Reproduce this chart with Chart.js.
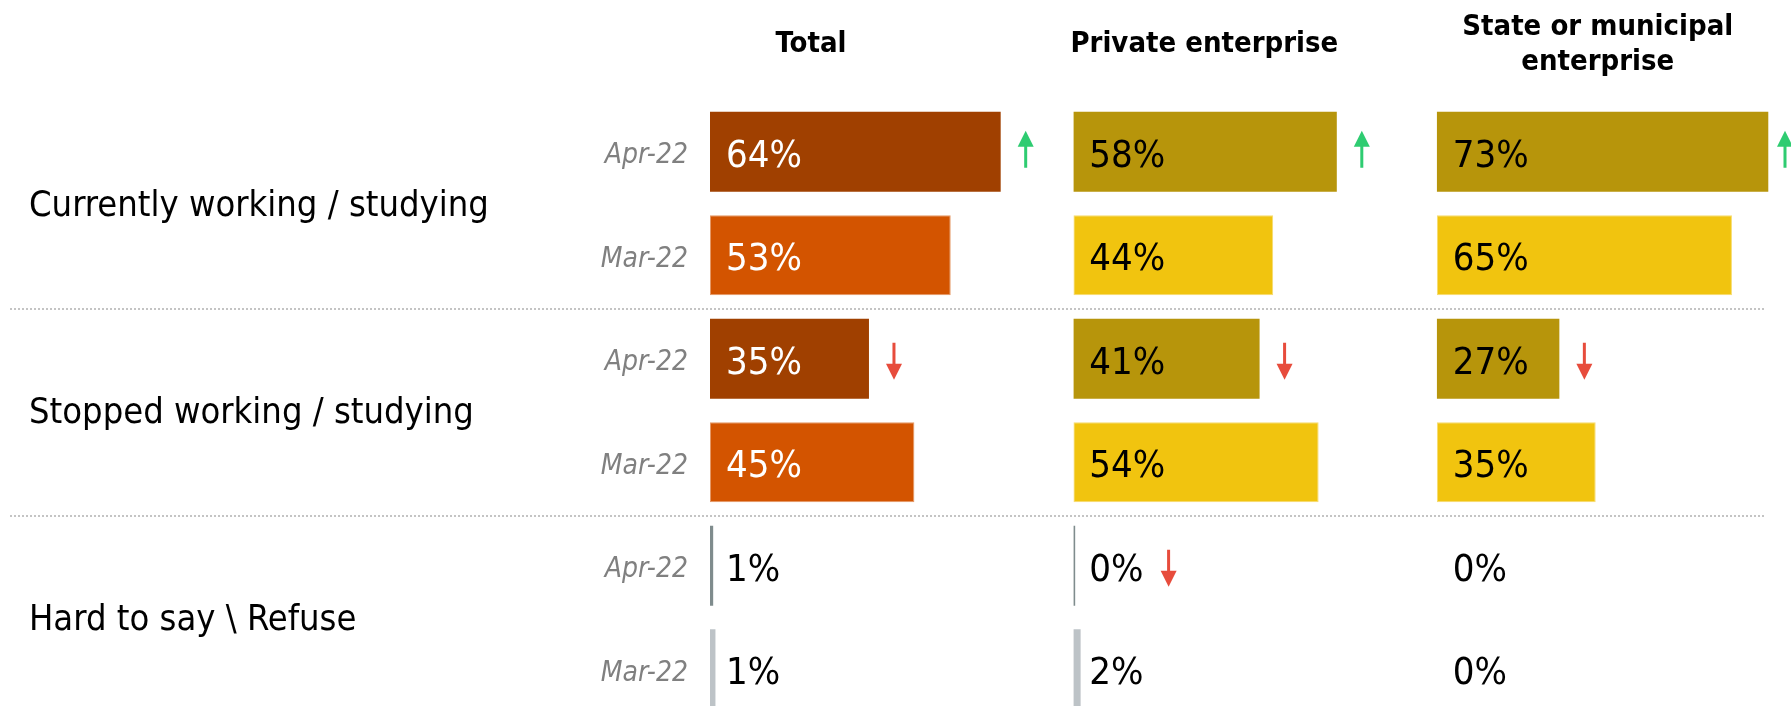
<!DOCTYPE html>
<html>
<head>
<meta charset="utf-8">
<script src="https://cdn.jsdelivr.net/npm/chart.js@4.4.1/dist/chart.umd.min.js"></script>
<style>
  html, body { margin: 0; padding: 0; background: #fff; overflow: hidden; }
  #wrap { position: relative; width: 1791px; height: 706px; overflow: hidden; }
  #chart { position: absolute; left: 0; top: 0; }
</style>
</head>
<body>
<div id="wrap"><canvas id="chart" width="1791" height="721"></canvas></div>
<script>
const rowLabels = ['Apr-22', 'Mar-22', 'Apr-22', 'Mar-22', 'Apr-22', 'Mar-22'];
const groupLabels = ['Currently working / studying', 'Stopped working / studying', 'Hard to say \\ Refuse'];
const panelTitles = [['Total'], ['Private enterprise'], ['State or municipal', 'enterprise']];

const totalValues   = [64, 53, 35, 45, 0.7, 1.2];
const privateValues = [58, 44, 41, 54, 0.4, 1.6];
const stateValues   = [73, 65, 27, 35, 0, 0];

// change vs previous wave, marked on the Apr rows
const totalTrend   = ['up', null, 'down', null, null, null];
const privateTrend = ['up', null, 'down', null, 'down', null];
const stateTrend   = ['up', null, 'down', null, null, null];

const totalColors   = ['#a04000', '#d35400', '#a04000', '#d35400', '#7f8c8d', '#bdc3c7'];
const totalEdges    = ['#a04000', '#e59866', '#a04000', '#e59866', '#7f8c8d', '#bdc3c7'];
const yellowColors  = ['#b7950b', '#f1c40f', '#b7950b', '#f1c40f', '#7f8c8d', '#bdc3c7'];
const yellowEdges   = ['#b7950b', '#f7dc6f', '#b7950b', '#f7dc6f', '#7f8c8d', '#bdc3c7'];
const edgeWidths    = [0, 1, 0, 1, 0, 0];
const totalText  = ['#fff', '#fff', '#fff', '#fff', '#000', '#000'];
const yellowText = ['#000', '#000', '#000', '#000', '#000', '#000'];

const FONT = "'DejaVu Sans Condensed', 'DejaVu Sans', sans-serif";
// header centre, measured from each panel's zero line
const headerShift = [101, 131, 161];

function drawArrow(ctx, x, y, dir) {
  ctx.save();
  ctx.fillStyle = dir === 'up' ? '#2ecc71' : '#e74c3c';
  if (dir === 'up') {
    ctx.beginPath();
    ctx.moveTo(x, y - 21);
    ctx.lineTo(x + 8, y - 5);
    ctx.lineTo(x - 8, y - 5);
    ctx.closePath();
    ctx.fill();
    ctx.fillRect(x - 1.5, y - 6, 3, 22);
  } else {
    ctx.beginPath();
    ctx.moveTo(x, y + 21);
    ctx.lineTo(x + 8, y + 5);
    ctx.lineTo(x - 8, y + 5);
    ctx.closePath();
    ctx.fill();
    ctx.fillRect(x - 1.5, y - 16, 3, 22);
  }
  ctx.restore();
}

const valueLabels = {
  id: 'valueLabels',
  afterDatasetsDraw(chart) {
    const ctx = chart.ctx;
    ctx.save();
    ctx.font = '38px ' + FONT;
    ctx.textAlign = 'left';
    ctx.textBaseline = 'alphabetic';
    chart.data.datasets.forEach((ds, di) => {
      const meta = chart.getDatasetMeta(di);
      const xs = chart.scales[ds.xAxisID];
      meta.data.forEach((bar, i) => {
        const txt = Math.round(ds.data[i]) + '%';
        const x0 = xs.getPixelForValue(0) + 16;
        ctx.fillStyle = ds.labelColors[i];
        ctx.fillText(txt, x0, bar.y + 15);
        const trend = ds.trend[i];
        if (trend) {
          const labelEnd = x0 + ctx.measureText(txt).width;
          let ax = Math.max(bar.x, labelEnd) + 25;
          ax = Math.min(ax, chart.width - 6);
          drawArrow(ctx, ax, bar.y, trend);
        }
      });
    });
    ctx.restore();
  }
};

const groupDecor = {
  id: 'groupDecor',
  afterDraw(chart) {
    const ctx = chart.ctx;
    const y = chart.scales.y;
    ctx.save();

    ctx.font = '36px ' + FONT;
    ctx.fillStyle = '#000';
    ctx.textAlign = 'left';
    groupLabels.forEach((g, gi) => {
      const yc = (y.getPixelForValue(gi * 2) + y.getPixelForValue(gi * 2 + 1)) / 2;
      ctx.fillText(g, 29, yc + 12);
    });

    ctx.strokeStyle = '#c4c4c4';
    ctx.lineWidth = 2;
    ctx.setLineDash([2, 2]);
    for (let gi = 1; gi < groupLabels.length; gi++) {
      const ys = Math.round((y.getPixelForValue(gi * 2 - 1) + y.getPixelForValue(gi * 2)) / 2) + 2;
      ctx.beginPath();
      ctx.moveTo(10, ys);
      ctx.lineTo(1765, ys);
      ctx.stroke();
    }
    ctx.setLineDash([]);

    ctx.font = 'bold 29px ' + FONT;
    ctx.textAlign = 'center';
    ['x1', 'x2', 'x3'].forEach((id, pi) => {
      const cx = chart.scales[id].getPixelForValue(0) + headerShift[pi];
      const lines = panelTitles[pi];
      lines.forEach((ln, li) => {
        ctx.fillText(ln, cx, 52 + (li - (lines.length - 1) / 2) * 35);
      });
    });
    ctx.restore();
  }
};

const barOpts = { grouped: false, barPercentage: 0.775, categoryPercentage: 1, borderWidth: edgeWidths, borderSkipped: false };

new Chart(document.getElementById('chart'), {
  type: 'bar',
  data: {
    labels: rowLabels,
    datasets: [
      Object.assign({ label: 'Total', data: totalValues, backgroundColor: totalColors, borderColor: totalEdges,
        labelColors: totalText, trend: totalTrend, xAxisID: 'x1', yAxisID: 'y' }, barOpts),
      Object.assign({ label: 'Private enterprise', data: privateValues, backgroundColor: yellowColors, borderColor: yellowEdges,
        labelColors: yellowText, trend: privateTrend, xAxisID: 'x2', yAxisID: 'y' }, barOpts),
      Object.assign({ label: 'State or municipal enterprise', data: stateValues, backgroundColor: yellowColors, borderColor: yellowEdges,
        labelColors: yellowText, trend: stateTrend, xAxisID: 'x3', yAxisID: 'y' }, barOpts)
    ]
  },
  options: {
    indexAxis: 'y',
    responsive: false,
    animation: false,
    layout: { padding: { top: 100, left: 0, right: 0, bottom: 0 } },
    plugins: { legend: { display: false }, tooltip: { enabled: false } },
    scales: {
      x1: { type: 'linear', position: 'bottom', stack: 'panels', stackWeight: 1, min: 0, max: 80, display: false },
      x2: { type: 'linear', position: 'bottom', stack: 'panels', stackWeight: 1, min: 0, max: 80, display: false },
      x3: { type: 'linear', position: 'bottom', stack: 'panels', stackWeight: 78 / 80, min: 0, max: 78, display: false },
      y: {
        type: 'category',
        position: 'left',
        grid: { display: false, drawTicks: false },
        border: { display: false },
        ticks: {
          padding: 22,
          labelOffset: 4,
          color: '#808080',
          font: { family: FONT, size: 28, style: 'italic' }
        },
        afterFit(scale) {
          scale.width = 710;
          scale.paddingTop = 0;
          scale.paddingBottom = 0;
        }
      }
    }
  },
  plugins: [valueLabels, groupDecor]
});
</script>
</body>
</html>
